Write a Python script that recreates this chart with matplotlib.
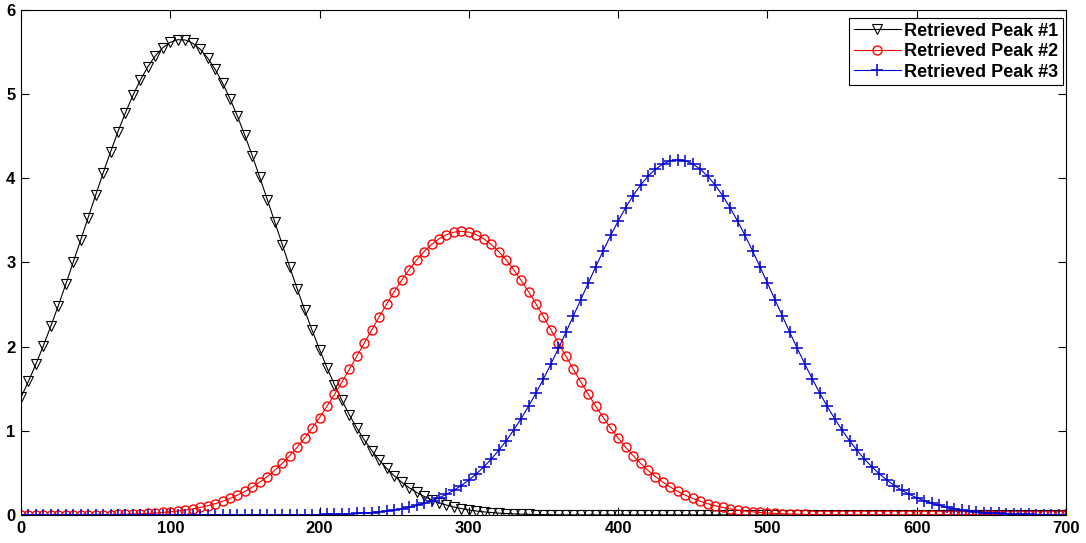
# 导入必要的库
import numpy as np
import matplotlib.pyplot as plt

# 字体设置（粗体 Arial 风格）
plt.rcParams['font.family'] = ['Liberation Sans', 'DejaVu Sans']
plt.rcParams['font.weight'] = 'bold'

# 横坐标：0 到 700，每 5 个单位取一个点
x = np.arange(0, 705, 5)

# 三个峰的数值
peak1 = [
    1.397, 1.587, 1.792, 2.011, 2.243, 2.487, 2.740, 3.001, 3.266, 3.534, 3.800, 4.061, 4.314, 4.556, 4.780,
    4.986, 5.169, 5.326, 5.454, 5.552, 5.616, 5.647, 5.644, 5.606, 5.535, 5.431, 5.297, 5.134, 4.946, 4.737,
    4.509, 4.265, 4.010, 3.748, 3.480, 3.213, 2.948, 2.688, 2.437, 2.196, 1.966, 1.749, 1.548, 1.361, 1.189,
    1.032, 0.891, 0.765, 0.652, 0.553, 0.466, 0.390, 0.324, 0.268, 0.221, 0.180, 0.146, 0.118, 0.095, 0.076,
    0.060, 0.047, 0.037, 0.029, 0.022, 0.017, 0.013, 0.010, 0.007, 0.005, 0.004, 0.003, 0.002, 0.002, 0.001,
    0.001, 0.001, 0, 0, 0, 0, 0, 0, 0, 0, 0, 0, 0, 0, 0,
    0, 0, 0, 0, 0, 0, 0, 0, 0, 0, 0, 0, 0, 0, 0,
    0, 0, 0, 0, 0, 0, 0, 0, 0, 0, 0, 0, 0, 0, 0,
    0, 0, 0, 0, 0, 0, 0, 0, 0, 0, 0, 0, 0, 0, 0,
    0, 0, 0, 0, 0, 0,
]
peak2 = [
    0, 0, 0, 0, 0, 0.001, 0.001, 0.001, 0.002, 0.002, 0.003, 0.004, 0.005, 0.006, 0.008,
    0.011, 0.014, 0.018, 0.023, 0.030, 0.037, 0.047, 0.059, 0.073, 0.090, 0.110, 0.134, 0.163, 0.196, 0.235,
    0.280, 0.331, 0.390, 0.456, 0.530, 0.613, 0.705, 0.805, 0.914, 1.032, 1.158, 1.292, 1.433, 1.580, 1.732,
    1.887, 2.044, 2.201, 2.356, 2.507, 2.652, 2.789, 2.915, 3.030, 3.130, 3.214, 3.281, 3.330, 3.360, 3.370,
    3.360, 3.330, 3.281, 3.214, 3.130, 3.030, 2.915, 2.789, 2.652, 2.507, 2.356, 2.201, 2.044, 1.887, 1.732,
    1.580, 1.433, 1.292, 1.158, 1.032, 0.914, 0.805, 0.705, 0.613, 0.530, 0.456, 0.390, 0.331, 0.280, 0.235,
    0.196, 0.163, 0.134, 0.110, 0.090, 0.073, 0.059, 0.047, 0.037, 0.030, 0.023, 0.018, 0.014, 0.011, 0.008,
    0.006, 0.005, 0.004, 0.003, 0.002, 0.002, 0.001, 0.001, 0.001, 0, 0, 0, 0, 0, 0,
    0, 0, 0, 0, 0, 0, 0, 0, 0, 0, 0, 0, 0, 0, 0,
    0, 0, 0, 0, 0, 0,
]
peak3 = [
    0, 0, 0, 0, 0, 0, 0, 0, 0, 0, 0, 0, 0, 0, 0,
    0, 0, 0, 0, 0, 0, 0, 0, 0, 0, 0, 0, 0, 0, 0,
    0, 0, 0, 0, 0, 0.001, 0.001, 0.002, 0.003, 0.003, 0.005, 0.006, 0.008, 0.011, 0.014,
    0.018, 0.023, 0.029, 0.037, 0.047, 0.059, 0.074, 0.091, 0.113, 0.138, 0.168, 0.204, 0.246, 0.294, 0.350,
    0.415, 0.488, 0.571, 0.664, 0.768, 0.882, 1.008, 1.145, 1.292, 1.450, 1.618, 1.795, 1.979, 2.169, 2.363,
    2.560, 2.756, 2.950, 3.139, 3.321, 3.492, 3.651, 3.794, 3.919, 4.025, 4.109, 4.170, 4.208, 4.220, 4.208,
    4.170, 4.109, 4.025, 3.919, 3.794, 3.651, 3.492, 3.321, 3.139, 2.950, 2.756, 2.560, 2.363, 2.169, 1.979,
    1.795, 1.618, 1.450, 1.292, 1.145, 1.008, 0.882, 0.768, 0.664, 0.571, 0.488, 0.415, 0.350, 0.294, 0.246,
    0.204, 0.168, 0.138, 0.113, 0.091, 0.074, 0.059, 0.047, 0.037, 0.029, 0.023, 0.018, 0.014, 0.011, 0.008,
    0.006, 0.005, 0.003, 0.003, 0.002, 0.001,
]
labels = ['Retrieved Peak #1', 'Retrieved Peak #2', 'Retrieved Peak #3']

# 创建图表
fig = plt.figure(figsize=(10.86, 5.43), dpi=100)
ax = fig.add_axes((0.0193, 0.0516, 0.9623, 0.93))

# 绘制三条曲线
ax.plot(x, peak1, color='black', marker='v', markersize=6.5, markerfacecolor='none',
        markeredgewidth=0.8, linewidth=0.8, label=labels[0])
ax.plot(x, peak2, color='red', marker='o', markersize=6.5, markerfacecolor='none',
        markeredgewidth=1.0, linewidth=0.8, label=labels[1])
ax.plot(x, peak3, color='#0000cc', marker='+', markersize=8, markeredgewidth=1.1,
        linewidth=0.8, label=labels[2])

# 坐标轴设置
ax.set_xlim(0, 700)
ax.set_ylim(0, 6)
ax.set_xticks([0, 100, 200, 300, 400, 500, 600, 700])
ax.set_yticks([0, 1, 2, 3, 4, 5, 6])
ax.tick_params(direction='in', length=6, width=0.8, top=True, right=True,
               labelsize=12, pad=4)
for lab in ax.get_xticklabels() + ax.get_yticklabels():
    lab.set_fontweight('bold')
for sp in ax.spines.values():
    sp.set_linewidth(0.8)

# 图例
leg = ax.legend(loc='upper right', bbox_to_anchor=(0.997, 0.984), borderaxespad=0,
                fancybox=False, edgecolor='black', framealpha=1,
                prop={'weight': 'bold', 'size': 13}, handlelength=2.6,
                handletextpad=0.2, labelspacing=0.2, borderpad=0.25)
leg.get_frame().set_linewidth(0.8)

# 保存图表
fig.savefig('out.png', dpi=100)
